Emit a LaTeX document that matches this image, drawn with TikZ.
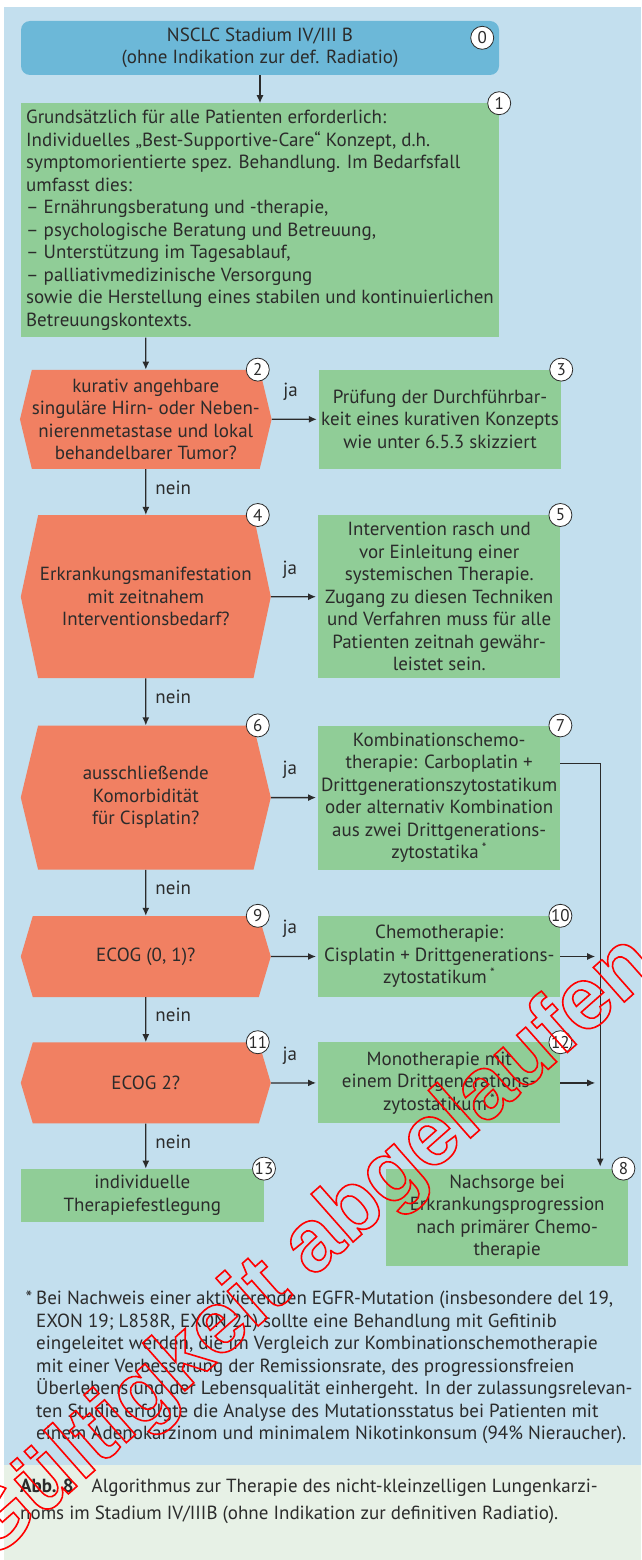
\documentclass[tikz,border=0pt]{standalone}
\usepackage{fontspec}
\setmainfont{PT Sans}
\newfontfamily\stampfont{Liberation Sans}
\usetikzlibrary{positioning,shapes.symbols,arrows.meta}

\definecolor{pagebg}{HTML}{C3DFEE}
\definecolor{capbg}{HTML}{E7F1E6}
\definecolor{startcol}{HTML}{6CB8D8}
\definecolor{boxcol}{HTML}{90CD97}
\definecolor{askcol}{HTML}{F18062}
\definecolor{ink}{HTML}{2B2B2B}
\definecolor{stampred}{HTML}{FF0000}

% outline text for the stamp (xdvipdfmx)
\newcommand{\outlinetext}[1]{\special{pdf:code 1 Tr 1.6 w}#1\special{pdf:code 0 Tr}}

\begin{document}
\begin{tikzpicture}[
  x=1pt, y=1pt,
  font=\fontsize{19}{22.5}\selectfont,
  text=ink,
  startnode/.style={fill=startcol,rounded corners=9pt,minimum width=478pt,minimum height=54pt,align=center,inner sep=0pt},
  infonode/.style={fill=boxcol,align=left,minimum width=478pt,minimum height=234pt,inner sep=0pt},
  boxnode/.style={fill=boxcol,align=center,minimum width=242pt,inner sep=0pt},
  asknode/.style={signal,signal to=east and west,fill=askcol,align=center,minimum width=250pt,inner sep=0pt},
  numnode/.style={circle,draw=ink,line width=.8pt,fill=white,inner sep=0pt,minimum size=23pt,font=\fontsize{17}{17}\selectfont},
  arr/.style={draw=ink,line width=1.3pt,-{Latex[length=8pt,width=7pt]}},
  lab/.style={inner sep=0pt}
]

% background
\fill[pagebg] (4,-7) rectangle (641,-1465);
\fill[capbg] (4,-1465) rectangle (641,-1560);
\useasboundingbox (0,0) rectangle (641,-1560);

\node[startnode] (n0) at (260,-48) {NSCLC Stadium IV/III B\\(ohne Indikation zur def. Radiatio)};
\node[infonode,below=28pt of n0] (n1) {Grundsätzlich für alle Patienten erforderlich:\\
Individuelles „Best-Supportive-Care“ Konzept, d.h.\\
symptomorientierte spez. Behandlung. Im Bedarfsfall\\
umfasst dies:\\
– Ernährungsberatung und -therapie,\\
– psychologische Beratung und Betreuung,\\
– Unterstützung im Tagesablauf,\\
– palliativmedizinische Versorgung\\
sowie die Herstellung eines stabilen und kontinuierlichen\\
Betreuungskontexts.};

\node[asknode,minimum height=99pt,signal pointer angle=153,below=32pt of n1.south west,xshift=125pt] (n2) {kurativ angehbare\\singuläre Hirn- oder Neben-\\nierenmetastase und lokal\\behandelbarer Tumor?};
\node[boxnode,minimum height=99pt,right=47pt of n2] (n3) {Prüfung der Durchführbar-\\keit eines kurativen Konzepts\\wie unter 6.5.3 skizziert};

\node[asknode,minimum height=163pt,signal pointer angle=156,below=46pt of n2] (n4) {Erkrankungsmanifestation\\mit zeitnahem\\Interventionsbedarf?};
\node[boxnode,minimum height=163pt,right=47pt of n4] (n5) {Intervention rasch und\\vor Einleitung einer\\systemischen Therapie.\\Zugang zu diesen Techniken\\und Verfahren muss für alle\\Patienten zeitnah gewähr-\\leistet sein.};

\node[asknode,minimum height=144pt,signal pointer angle=153,below=47pt of n4] (n6) {ausschließende\\Komorbidität\\für Cisplatin?};
\node[boxnode,minimum height=144pt,right=47pt of n6] (n7) {Kombinationschemo-\\therapie: Carboplatin +\\Drittgenerationszytostatikum\\oder alternativ Kombination\\aus zwei Drittgenerations-\\zytostatika\,\textsuperscript{*}};

\node[asknode,minimum height=81pt,signal pointer angle=147,below=46pt of n6] (n9) {ECOG (0, 1)?};
\node[boxnode,minimum height=81pt,right=47pt of n9] (n10) {Chemotherapie:\\Cisplatin + Drittgenerations-\\zytostatikum\,\textsuperscript{*}};

\node[asknode,minimum height=81pt,signal pointer angle=147,below=45pt of n9] (n11) {ECOG 2?};
\node[boxnode,minimum height=81pt,right=47pt of n11] (n12) {Monotherapie mit\\einem Drittgenerations-\\zytostatikum\,\textsuperscript{*}};

\node[boxnode,minimum width=243pt,minimum height=53pt,below=45pt of n11,xshift=-3.5pt] (n13) {individuelle\\Therapiefestlegung};
\node[boxnode,minimum height=97pt,right=122pt of n13.north east,anchor=north west] (n8) {Nachsorge bei\\Erkrankungsprogression\\nach primärer Chemo-\\therapie};

% numbers
\node[numnode] at ([xshift=-17pt,yshift=-17pt]n0.north east) {0};
\node[numnode] at (n1.north east) {1};
\node[numnode] at ([xshift=112pt]n2.north) {2};
\node[numnode] at (n3.north east) {3};
\node[numnode] at ([xshift=112pt]n4.north) {4};
\node[numnode] at (n5.north east) {5};
\node[numnode] at ([xshift=112pt]n6.north) {6};
\node[numnode] at (n7.north east) {7};
\node[numnode] at ([xshift=112pt]n9.north) {9};
\node[numnode] at (n10.north east) {10};
\node[numnode] at ([xshift=112pt]n11.north) {11};
\node[numnode] at (n12.north east) {12};
\node[numnode] at (n13.north east) {13};
\node[numnode] at ([xshift=-5pt]n8.north east) {8};

\path (n0) edge[arr] (n1)
(n1.south -| n2) edge[arr] (n2)
(n2) edge[arr] node[lab,right=9pt,pos=.4] {nein} (n4)
(n4) edge[arr] node[lab,right=9pt,pos=.4] {nein} (n6)
(n6) edge[arr] node[lab,right=9pt,pos=.4] {nein} (n9)
(n9) edge[arr] node[lab,right=9pt,pos=.4] {nein} (n11)
(n11) edge[arr] node[lab,right=9pt,pos=.4] {nein} (n11.south |- n13.north);

\path (n2) edge[arr,shorten >=2pt] node[lab,above=18pt,pos=.4] {ja} (n3)
(n4) edge[arr,shorten >=2pt] node[lab,above=18pt,pos=.4] {ja} (n5)
(n6) edge[arr,shorten >=2pt] node[lab,above=18pt,pos=.4] {ja} (n7)
(n9) edge[arr,shorten >=2pt] node[lab,above=18pt,pos=.4] {ja} (n10)
(n11) edge[arr,shorten >=2pt] node[lab,above=18pt,pos=.4] {ja} (n12);

% collecting line to 8
\coordinate[right=93pt of n8.north] (bus);
\draw[arr,shorten >=2pt] ([yshift=34pt]n7.east) -| (bus);
\draw[arr,shorten >=5pt] (n10) -- (n10 -| bus);
\draw[arr,shorten >=5pt] (n12) -- (n12 -| bus);

\node[lab,anchor=north west,align=left] (note) at (36,-1291) {\llap{*\hspace{4pt}}Bei Nachweis einer aktivierenden EGFR-Mutation (insbesondere del 19,\\
EXON 19; L858R, EXON 21) sollte eine Behandlung mit Gefitinib\\
eingeleitet werden, die im Vergleich zur Kombinationschemotherapie\\
mit einer Verbesserung der Remissionsrate, des progressionsfreien\\
Überlebens und der Lebensqualität einhergeht. In der zulassungsrelevan-\\
ten Studie erfolgte die Analyse des Mutationsstatus bei Patienten mit\\
einem Adenokarzinom und minimalem Nikotinkonsum (94\% Nieraucher).};

\node[lab,anchor=north west,align=left,font=\fontsize{19}{27}\selectfont] (caption) at (20,-1479) {\textbf{Abb. 8}\hspace{18pt}Algorithmus zur Therapie des nicht-kleinzelligen Lungenkarzi-\\
noms im Stadium IV/IIIB (ohne Indikation zur definitiven Radiatio).};

\node[lab,rotate=41.5,text=stampred,font=\stampfont\bfseries\fontsize{88}{88}\selectfont] (stamp) at (310,-1250) {\outlinetext{Gültigkeit abgelaufen}};

\end{tikzpicture}
\end{document}
